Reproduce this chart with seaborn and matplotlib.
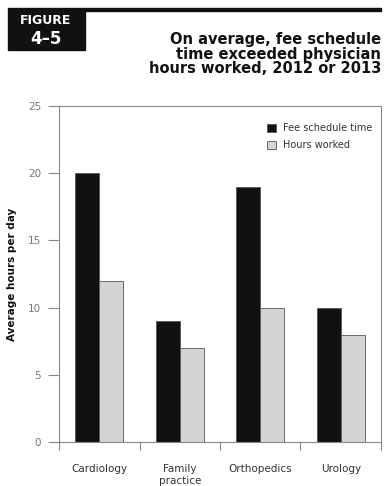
import matplotlib
matplotlib.use("Agg")
import matplotlib.pyplot as plt
import seaborn as sns
import pandas as pd
from matplotlib.patches import Rectangle

specialties = ["Cardiology", "Family\npractice", "Orthopedics", "Urology"]
fee_schedule = [20, 9, 19, 10]
hours_worked = [12, 7, 10, 8]
series = ["Fee schedule time", "Hours worked"]

df = pd.DataFrame({
    "specialty": specialties * 2,
    "hours": fee_schedule + hours_worked,
    "series": [series[0]] * 4 + [series[1]] * 4,
})

sns.set_style("white")
plt.rcParams["font.family"] = ["DejaVu Sans"]

fig = plt.figure(figsize=(3.84, 4.86), dpi=100)
ax = fig.add_axes([0.154, 0.09, 0.838, 0.692])

sns.barplot(data=df, x="specialty", y="hours", hue="series",
            palette=["#111111", "#d4d4d4"], width=0.6, ax=ax,
            edgecolor="#555555", linewidth=0.6, saturation=1)

ax.set_ylim(0, 25)
ax.set_xlim(-0.5, 3.5)
ax.set_yticks([0, 5, 10, 15, 20, 25])
ax.set_xticks(range(4))
ax.set_xticklabels(specialties)
ax.set_xticks([-0.5, 0.5, 1.5, 2.5, 3.5], minor=True)
ax.tick_params(axis="x", which="major", length=0, pad=16, labelsize=7.5,
               labelcolor="#333333")
ax.tick_params(axis="x", which="minor", length=6, width=0.8, color="#888888",
               direction="out", bottom=True)
ax.tick_params(axis="y", length=8, width=0.8, color="#888888", pad=5,
               labelsize=7.5, labelcolor="#777777", left=True)
for s in ax.spines.values():
    s.set_color("#888888")
    s.set_linewidth(0.8)

ax.set_xlabel("")
ax.set_ylabel("Average hours per day", fontsize=7.5, fontweight="bold",
              color="#111111", labelpad=8)

ax.legend(loc="upper right", bbox_to_anchor=(1.0, 0.975), frameon=False,
          fontsize=7, handlelength=0.9, handleheight=0.9,
          handletextpad=0.7, labelspacing=0.75, labelcolor="#333333")

# header box and rule
fig.patches.append(Rectangle((8 / 384, 1 - 50 / 486), 77 / 384, 42 / 486,
                             transform=fig.transFigure, color="#111111",
                             zorder=5))
fig.patches.append(Rectangle((85 / 384, 1 - 11 / 486), 296 / 384, 3 / 486,
                             transform=fig.transFigure, color="#111111",
                             zorder=5))
fig.text(46 / 384, 1 - 20 / 486, "FIGURE", color="white", fontsize=9,
         fontweight="bold", ha="center", va="center", zorder=6)
fig.text(46 / 384, 1 - 39 / 486, "4–5", color="white", fontsize=12,
         fontweight="bold", ha="center", va="center", zorder=6)
fig.text(381 / 384, 1 - 54 / 486,
         "On average, fee schedule\ntime exceeded physician\nhours worked, 2012 or 2013",
         ha="right", va="center", fontsize=10.5, fontweight="bold",
         color="#111111", linespacing=0.92)

fig.savefig("out.png", dpi=100)
